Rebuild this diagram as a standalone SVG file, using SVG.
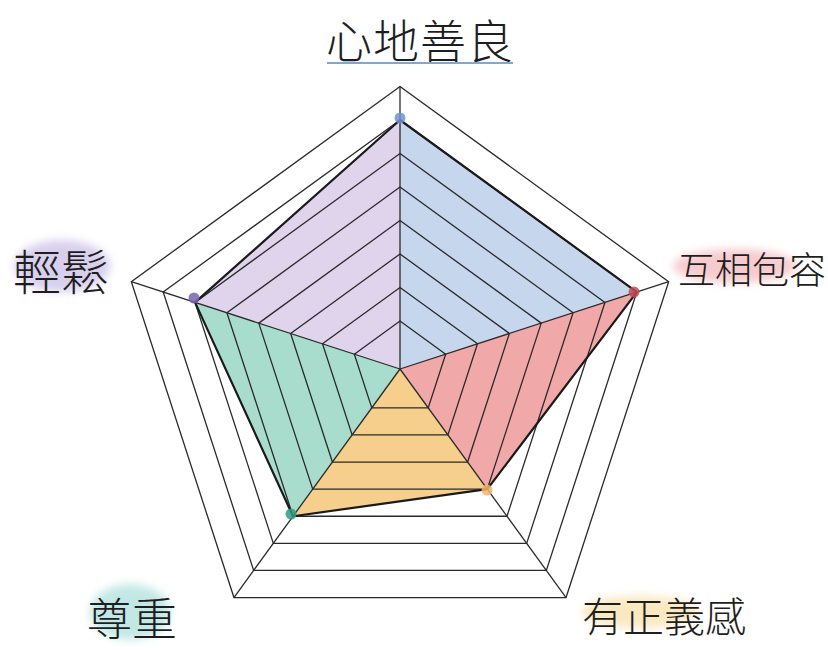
<svg xmlns="http://www.w3.org/2000/svg" width="828" height="650" viewBox="0 0 828 650">
<defs>
<style>
.ring{fill:none;stroke:#2a2a2a;stroke-width:1.3;stroke-linejoin:miter}
.spoke{stroke:#2a2a2a;stroke-width:1.3}
.data{fill:none;stroke:#1a1a1a;stroke-width:2.2;stroke-linejoin:round}
.lbl{font-family:"Noto Sans CJK TC","Noto Sans CJK SC",sans-serif;fill:#1e1e1e;font-weight:300}
.hl{filter:url(#soft)}
</style>
<filter id="soft" x="-20%" y="-40%" width="140%" height="180%"><feGaussianBlur stdDeviation="4"/></filter>
</defs>
<rect width="828" height="650" fill="#ffffff"/>

<g id="sectors">
<polygon id="sector-purple" points="400,369 195.05,302.41 400,120" fill="#e0d4ed"/>
<polygon id="sector-blue" points="400,369 400,120 636.81,292.05" fill="#c6d6ed"/>
<polygon id="sector-red" points="400,369 636.81,292.05 487.29,489.14" fill="#f1a8a8"/>
<polygon id="sector-yellow" points="400,369 487.29,489.14 293.02,516.24" fill="#f7cf8d"/>
<polygon id="sector-green" points="400,369 293.02,516.24 195.05,302.41" fill="#a8dccd"/>
</g>

<g id="grid">
<polygon class="ring" points="400,321 445.65,354.17 428.21,407.83 371.79,407.83 354.35,354.17"/>
<polygon class="ring" points="400,287.5 477.51,343.81 447.90,434.94 352.10,434.94 322.49,343.81"/>
<polygon class="ring" points="400,254 509.37,333.46 467.60,462.04 332.40,462.04 290.63,333.46"/>
<polygon class="ring" points="400,220.5 541.23,323.11 487.29,489.14 312.71,489.14 258.77,323.11"/>
<polygon class="ring" points="400,187 573.09,312.76 506.98,516.24 293.02,516.24 226.91,312.76"/>
<polygon class="ring" points="400,153.5 604.95,302.41 526.67,543.34 273.33,543.34 195.05,302.41"/>
<polygon class="ring" points="400,120 636.81,292.05 546.36,570.45 253.64,570.45 163.19,292.05"/>
<polygon class="ring" points="400,86.5 668.67,281.70 566.05,597.55 233.95,597.55 131.33,281.70"/>
<line class="spoke" x1="400" y1="369" x2="400" y2="86.5"/>
<line class="spoke" x1="400" y1="369" x2="668.67" y2="281.70"/>
<line class="spoke" x1="400" y1="369" x2="566.05" y2="597.55"/>
<line class="spoke" x1="400" y1="369" x2="233.95" y2="597.55"/>
<line class="spoke" x1="400" y1="369" x2="131.33" y2="281.70"/>
</g>

<g id="data">
<polygon class="data" points="400,120 636.81,292.05 487.29,489.14 293.02,516.24 195.05,302.41"/>
<circle cx="400" cy="118" r="5.5" fill="#6f93cf" opacity="0.85"/>
<circle cx="634" cy="292" r="5.5" fill="#c24a55" opacity="0.85"/>
<circle cx="487" cy="490" r="5.5" fill="#f2b56a" opacity="0.85"/>
<circle cx="291" cy="514" r="5.5" fill="#2f9c86" opacity="0.85"/>
<circle cx="194" cy="298" r="5.5" fill="#7563ad" opacity="0.85"/>
</g>

<g id="label-top">
<text class="lbl" x="420" y="58" font-size="46" text-anchor="middle" letter-spacing="1">心地善良</text>
<line x1="327" y1="63" x2="513" y2="63" stroke="#7fa6d6" stroke-width="2"/>
</g>
<g id="label-right">
<ellipse class="hl" cx="735" cy="266" rx="62" ry="17" fill="#f3b6bb" opacity="0.7"/>
<text class="lbl" x="678" y="284" font-size="37">互相包容</text>
</g>
<g id="label-left">
<ellipse class="hl" cx="62" cy="266" rx="48" ry="26" fill="#cfc4e8" opacity="0.8"/>
<text class="lbl" x="13" y="290" font-size="48">輕鬆</text>
</g>
<g id="label-bottom-left">
<ellipse class="hl" cx="130" cy="612" rx="40" ry="28" fill="#b4e3e0" opacity="0.8"/>
<text class="lbl" x="87" y="636" font-size="45">尊重</text>
</g>
<g id="label-bottom-right">
<ellipse class="hl" cx="640" cy="612" rx="58" ry="16" fill="#f8dfa6" opacity="0.7"/>
<text class="lbl" x="582" y="632" font-size="41">有正義感</text>
</g>
</svg>
